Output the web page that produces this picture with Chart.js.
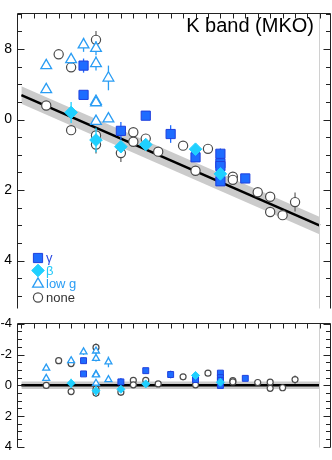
<!DOCTYPE html>
<html>
<head>
<meta charset="utf-8">
<script src="https://cdn.jsdelivr.net/npm/chart.js@4.4.1/dist/chart.umd.min.js"></script>
<style>
  html, body { margin: 0; padding: 0; background: #fff; }
  #wrap { position: relative; width: 332px; height: 460px; overflow: hidden; }
  #main { position: absolute; left: 0; top: 0; }
  #resid { position: absolute; left: 0; top: 311px; }
</style>
</head>
<body>
<div id="wrap">
  <canvas id="main" width="332" height="322"></canvas>
  <canvas id="resid" width="332" height="149"></canvas>
</div>
<script>
// spectral type index along x, absolute K mag and residual from fit
const gammaX   = [5, 5, 8, 10, 12, 14, 16, 16, 16, 16, 18];
const gammaMag = [8.47, 9.30, 10.32, 9.89, 10.41, 11.07, 10.97, 11.24, 11.32, 11.75, 11.67];
const gammaRes = [-1.60, -0.74, -0.22, -0.95, -0.70, -0.37, -0.79, -0.50, -0.32, 0.01, -0.45];
const gammaErr = [0.2, 0, 0.25, 0, 0.25, 0, 0.15, 0, 0, 0, 0];

const betaX   = [4, 6, 8, 10, 14, 16];
const betaMag = [9.80, 10.58, 10.77, 10.71, 10.84, 11.54];
const betaRes = [-0.13, 0.36, 0.26, -0.09, -0.64, -0.20];
const betaErr = [0.3, 0.35, 0, 0, 0.1, 0];

const lowgX   = [2, 2, 4, 5, 6, 6, 6, 6, 6, 7, 7];
const lowgMag = [8.47, 9.15, 8.30, 7.88, 7.98, 8.41, 9.48, 9.52, 10.05, 8.82, 9.98];
const lowgRes = [-1.12, -0.45, -1.60, -2.17, -2.23, -1.75, -0.72, -0.68, -0.13, -1.52, -0.37];
const lowgErr = [0, 0, 0.12, 0.2, 0.2, 0.2, 0, 0, 0, 0.35, 0];

const noneX   = [2, 3, 4, 4, 6, 6, 6, 8, 9, 9, 10, 11, 13, 14, 15, 17, 17, 19, 20, 20, 21, 22];
const noneMag = [9.60, 8.15, 8.52, 10.30, 7.74, 10.45, 10.71, 10.95, 10.36, 10.63, 10.54, 10.91, 10.74, 11.45, 10.83, 11.62, 11.71, 12.06, 12.19, 12.62, 12.71, 12.34];
const noneRes = [0.01, -1.60, -1.41, 0.41, -2.46, 0.26, 0.51, 0.45, -0.32, -0.03, -0.32, -0.09, -0.55, -0.03, -0.79, -0.30, -0.22, -0.18, -0.20, 0.20, 0.16, -0.37];
const noneErr = [0, 0, 0, 0, 0.25, 0, 0.25, 0.25, 0, 0, 0, 0, 0, 0, 0, 0, 0, 0, 0, 0, 0, 0.27];

// linear fit and its rms band
const fitX = [0, 24];
const fitMag = [9.305, 13.01];
const fitRes = [0, 0];
const rms = 0.25;

const mainTickValues = [8, 10, 12, 14];
const mainTickLabels = ['8', '0', '2', '4'];
const residTickValues = [-4, -2, 0, 2, 4];
const residTickLabels = ['-4', '-2', '0', '2', '4'];

const legendLabels = ['γ', 'β', 'low g', 'none'];
const title = 'K band (MKO)';

const FONT = '"Liberation Sans", Arial, Helvetica, sans-serif';
const INK = '#222';

const pts = (xs, ys) => xs.map((x, i) => ({x: x, y: ys[i]}));
const shift = (ys, d) => ys.map(v => v + d);

const styles = {
  none:  {pointStyle: 'circle',   backgroundColor: '#fff',    borderColor: '#4a4a4a', bar: '#6a6a6a', bw: 1.2},
  lowg:  {pointStyle: 'triangle', backgroundColor: '#fff',    borderColor: '#2a9df4', bar: '#2a9df4', bw: 1.3},
  gamma: {pointStyle: 'rect',     backgroundColor: '#1e6cff', borderColor: '#2040dd', bar: '#1e6cff', bw: 1},
  beta:  {pointStyle: 'rectRot',  backgroundColor: '#1fd0ff', borderColor: '#1fd0ff', bar: '#1fd0ff', bw: 1}
};

function markerSet(key, xs, ys, errs, r, order) {
  const s = styles[key];
  return {
    type: 'scatter',
    data: pts(xs, ys),
    errors: errs,
    barColor: s.bar,
    pointStyle: s.pointStyle,
    pointRadius: r,
    backgroundColor: s.backgroundColor,
    borderColor: s.borderColor,
    pointBorderWidth: s.bw,
    order: order
  };
}

function fitSets(ys) {
  return [
    {type: 'line', data: pts(fitX, shift(ys, -rms)), borderWidth: 0, pointRadius: 0, fill: false, order: 10},
    {type: 'line', data: pts(fitX, shift(ys, rms)), borderWidth: 0, pointRadius: 0,
     fill: '-1', backgroundColor: '#cbcbcb', order: 9},
    {type: 'line', data: pts(fitX, ys), borderColor: '#000', borderWidth: 2.5, pointRadius: 0, fill: false, order: 8}
  ];
}

const errorBars = {
  id: 'errorBars',
  beforeDatasetDraw(chart, args) {
    const ds = chart.data.datasets[args.index];
    if (!ds.errors) return;
    const ctx = chart.ctx, y = chart.scales.y;
    ctx.save();
    ctx.strokeStyle = ds.barColor;
    ctx.lineWidth = 1.3;
    ds.data.forEach((p, i) => {
      const e = ds.errors[i];
      if (!e) return;
      const px = args.meta.data[i].x;
      ctx.beginPath();
      ctx.moveTo(px, y.getPixelForValue(p.y - e));
      ctx.lineTo(px, y.getPixelForValue(p.y + e));
      ctx.stroke();
    });
    ctx.restore();
  }
};

function framePlugin(lo, hi, major) {
  return {
    id: 'frame',
    afterDatasetsDraw(chart) {
      const ctx = chart.ctx, a = chart.chartArea, x = chart.scales.x, y = chart.scales.y;
      const L = Math.floor(a.left) + 0.5, R = Math.floor(a.right) - 0.5;
      const T = Math.floor(a.top) + 0.5, B = Math.floor(a.bottom) + 0.5;
      ctx.save();
      // faint edge of the data range
      ctx.strokeStyle = '#d0d0d0';
      ctx.lineWidth = 1;
      const gx = Math.round(x.getPixelForValue(24)) - 0.5;
      ctx.beginPath(); ctx.moveTo(gx, T); ctx.lineTo(gx, B); ctx.stroke();

      ctx.strokeStyle = INK;
      ctx.beginPath();
      ctx.moveTo(L, B); ctx.lineTo(L, T); ctx.lineTo(R, T); ctx.lineTo(R, B);
      for (let v = 0; v <= 24; v++) {
        const px = Math.round(x.getPixelForValue(v)) + 0.5;
        ctx.moveTo(px, T); ctx.lineTo(px, T + 5);
      }
      for (let v = lo; v <= hi + 1e-6; v += 0.5) {
        const py = Math.round(y.getPixelForValue(v)) + 0.5;
        const len = major.includes(v) ? 7 : 4.5;
        ctx.moveTo(L, py); ctx.lineTo(L + len, py);
        ctx.moveTo(R, py); ctx.lineTo(R - len, py);
      }
      ctx.stroke();
      ctx.restore();
    }
  };
}

const titleAndLegend = {
  id: 'titleAndLegend',
  afterDraw(chart) {
    const ctx = chart.ctx;
    ctx.save();
    ctx.fillStyle = '#000';
    ctx.font = '20px ' + FONT;
    ctx.textAlign = 'right';
    ctx.textBaseline = 'middle';
    ctx.fillText(title, 314, 26);

    const rows = [
      {key: 'gamma', r: 6.5, y: 258, color: '#2a48e0'},
      {key: 'beta', r: 6.3, y: 270.5, color: '#1fc8f8'},
      {key: 'lowg', r: 6.2, y: 284, color: '#2a9df4'},
      {key: 'none', r: 4.6, y: 297.5, color: '#333'}
    ];
    ctx.font = '13px ' + FONT;
    ctx.textAlign = 'left';
    rows.forEach((row, i) => {
      const s = styles[row.key];
      ctx.fillStyle = s.backgroundColor;
      ctx.strokeStyle = s.borderColor;
      ctx.lineWidth = s.bw;
      Chart.helpers.drawPoint(ctx, {pointStyle: s.pointStyle, radius: row.r, rotation: 0, borderWidth: s.bw}, 38, row.y);
      ctx.fillStyle = row.color;
      ctx.fillText(legendLabels[i], 46, row.y + 0.5);
    });
    ctx.restore();
  }
};

function yAxis(min, max, values, labels, size, pad) {
  return {
    type: 'linear',
    reverse: true,
    min: min,
    max: max,
    grid: {display: false, drawTicks: false},
    border: {display: false},
    afterBuildTicks: s => { s.ticks = values.map(v => ({value: v})); },
    afterFit: s => { s.width = 17; },
    ticks: {
      autoSkip: false,
      padding: pad,
      color: '#000',
      font: {family: FONT, size: size},
      callback: (v) => labels[values.indexOf(v)]
    }
  };
}

const xAxis = {type: 'linear', display: false, min: -0.35, max: 24.93};

const common = {
  responsive: false,
  animation: false,
  devicePixelRatio: 1,
  plugins: {legend: {display: false}, tooltip: {enabled: false}},
  elements: {line: {tension: 0}}
};

new Chart(document.getElementById('main'), {
  type: 'scatter',
  data: {
    datasets: fitSets(fitMag).concat([
      markerSet('none', noneX, noneMag, noneErr, 4.6, 4),
      markerSet('lowg', lowgX, lowgMag, lowgErr, 6.2, 3),
      markerSet('gamma', gammaX, gammaMag, gammaErr, 6.5, 2),
      markerSet('beta', betaX, betaMag, betaErr, 6.3, 1)
    ])
  },
  options: Object.assign({}, common, {
    layout: {autoPadding: false, padding: {left: 0, right: 0.5, top: 0.5, bottom: 0.5}},
    scales: {x: xAxis, y: yAxis(6.99, 15.36, mainTickValues, mainTickLabels, 14, 5)}
  }),
  plugins: [errorBars, framePlugin(7, 15, mainTickValues), titleAndLegend]
});

new Chart(document.getElementById('resid'), {
  type: 'scatter',
  data: {
    datasets: fitSets(fitRes).concat([
      markerSet('none', noneX, noneRes, noneErr, 3, 4),
      markerSet('lowg', lowgX, lowgRes, lowgErr, 4, 3),
      markerSet('gamma', gammaX, gammaRes, gammaErr, 4.2, 2),
      markerSet('beta', betaX, betaRes, betaErr, 4, 1)
    ])
  },
  options: Object.assign({}, common, {
    layout: {autoPadding: false, padding: {left: 0, right: 0.5, top: 10.5, bottom: 0}},
    scales: {x: xAxis, y: yAxis(-4, 4.03, residTickValues, residTickLabels, 13, 5)}
  }),
  plugins: [errorBars, framePlugin(-4, 4, residTickValues)]
});
</script>
</body>
</html>
